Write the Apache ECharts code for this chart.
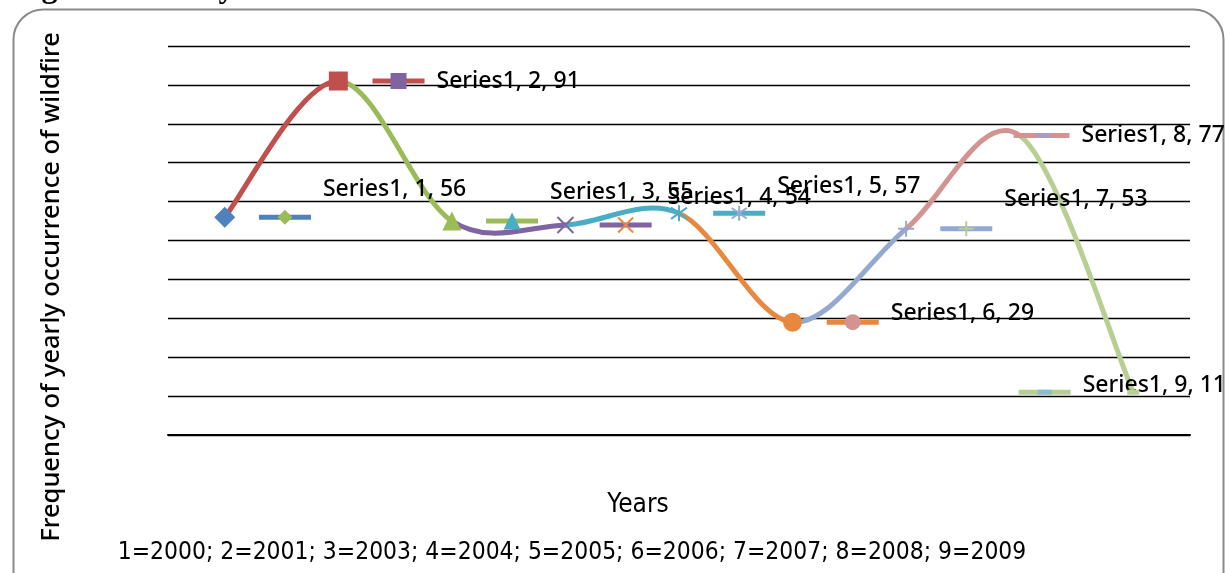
<!DOCTYPE html>
<html><head><meta charset="utf-8">
<script src="https://cdn.jsdelivr.net/npm/echarts@6/dist/echarts.min.js"></script>
<style>html,body{margin:0;padding:0;background:#fff}#c{width:1225px;height:573px}</style>
</head><body><div id="c"></div>
<script>
// ---- data ----
const seriesName = 'Series1';
const categories = [1, 2, 3, 4, 5, 6, 7, 8, 9];
const values = [56, 91, 55, 54, 57, 29, 53, 77, 11];
const yearKey = ['1=2000', '2=2001', '3=2003', '4=2004', '5=2005', '6=2006', '7=2007', '8=2008', '9=2009'];
const xTitle = 'Years';
const yTitle = 'Frequency of yearly occurrence of wildfire';
const topCaption = 'Figure 3: Yearly';

// ---- styles / layout ----
const palette = ['#4F81BD', '#C0504D', '#9BBB59', '#8064A2', '#4BACC6', '#E8883E',
                 '#93A9D0', '#D39391', '#B7CF92', '#A99BC2', '#86BFD0'];
const shapes = ['diamond', 'rect', 'triangle', 'x', 'star', 'circle', 'plus', 'dash', 'dash'];
const keyShift = [0.53, 0.53, 0.53, 0.53, 0.53, 0.53, 0.53, 0.21, -0.78];
const labelShift = [[0, -28], [0, 0], [0, -29], [4, -27], [0, -27], [0, -9], [0, -29], [0, 0], [0, -7]];
const SMOOTH = 1 / 6;   // Excel-like Catmull-Rom tension
const PATHS = {
  x: 'path://M0,0L10,10M10,0L0,10',
  star: 'path://M5,0L5,10M1.5,1.5L8.5,8.5M8.5,1.5L1.5,8.5',
  plus: 'path://M5,0L5,10M0,5L10,5'
};
const LABEL_FONT = '"Noto Sans", "Open Sans", sans-serif';
const NARROW_FONT = '"Liberation Sans Narrow", "DejaVu Sans Condensed", "Arial Narrow", sans-serif';

function sym(shape, color, big) {
  if (shape === 'x' || shape === 'star' || shape === 'plus') {
    return { symbol: PATHS[shape], symbolSize: big ? 16 : 15,
      itemStyle: { color: 'none', borderColor: color, borderWidth: 2, opacity: 1 } };
  }
  if (shape === 'dash') {
    return { symbol: 'rect', symbolSize: [big ? 12 : 14, 5], itemStyle: { color: color, borderWidth: 0, opacity: 1 } };
  }
  let size = big ? 19 : 16;
  if (shape === 'diamond') size = big ? 21 : 15;
  if (shape === 'triangle') size = big ? 19 : 17;
  return { symbol: shape, symbolSize: size, itemStyle: { color: color, borderWidth: 0, opacity: 1 } };
}

const lineData = categories.map((c, i) => [c, values[i]]);
const pointData = categories.map((c, i) => Object.assign({ value: [c, values[i]] }, sym(shapes[i], palette[i], true)));
const keyLineData = categories.map((c, i) => ({
  value: [c + keyShift[i], values[i]],
  name: seriesName + ', ' + c + ', ' + values[i],
  itemStyle: { color: palette[i], opacity: 1 },
  label: { offset: labelShift[i] }
}));
const keyMarkData = categories.map((c, i) => Object.assign({ value: [c + keyShift[i], values[i]] },
  sym(shapes[i], palette[i + 2], false)));

// smoothed segment i -> i+1, coloured like point i+1
function renderSegment(params, api) {
  const i = params.dataIndex;
  const n = categories.length;
  if (i >= n - 1) return null;
  const P = j => api.coord([categories[Math.max(0, Math.min(n - 1, j))], values[Math.max(0, Math.min(n - 1, j))]]);
  const p0 = P(i - 1), p1 = P(i), p2 = P(i + 1), p3 = P(i + 2);
  return {
    type: 'bezierCurve',
    shape: {
      x1: p1[0], y1: p1[1], x2: p2[0], y2: p2[1],
      cpx1: p1[0] + (p2[0] - p0[0]) * SMOOTH, cpy1: p1[1] + (p2[1] - p0[1]) * SMOOTH,
      cpx2: p2[0] - (p3[0] - p1[0]) * SMOOTH, cpy2: p2[1] - (p3[1] - p1[1]) * SMOOTH
    },
    style: { stroke: palette[i + 1], lineWidth: 5, fill: 'none', lineCap: 'round' }
  };
}

const chart = echarts.init(document.getElementById('c'));
chart.setOption({
  animation: false,
  backgroundColor: '#fff',
  grid: { left: 168, right: 35, top: 46, bottom: 138 },
  xAxis: {
    type: 'value', min: 0.5, max: 9.5,
    axisLabel: { show: false }, axisTick: { show: false }, splitLine: { show: false },
    axisLine: { show: true, lineStyle: { color: '#000', width: 2 } }
  },
  yAxis: {
    type: 'value', min: 0, max: 100, interval: 10,
    axisLabel: { show: false }, axisTick: { show: false }, axisLine: { show: false },
    splitLine: { lineStyle: { color: '#000', width: 1.4 } }
  },
  series: [
    { type: 'custom', data: lineData, renderItem: renderSegment, encode: { x: 0, y: 1 },
      clip: false, z: 2, silent: true },
    { type: 'scatter', data: pointData, z: 4, silent: true, itemStyle: { opacity: 1 } },
    { type: 'scatter', data: keyLineData, symbol: 'rect', symbolSize: [52, 5], z: 3, silent: true,
      itemStyle: { opacity: 1 },
      label: { show: true, position: 'right', distance: 12, color: '#000', fontWeight: 500,
        fontFamily: LABEL_FONT, fontSize: 23, textBorderWidth: 0, formatter: p => p.name } },
    { type: 'scatter', data: keyMarkData, z: 5, silent: true, itemStyle: { opacity: 1 } }
  ],
  graphic: [
    { type: 'rect', left: 11, top: 7, shape: { width: 1210, height: 610, r: 30 },
      style: { fill: 'none', stroke: '#8a8a8a', lineWidth: 2 }, z: -1 },
    { type: 'text', x: 13, y: 5, style: { text: topCaption, fill: '#000',
      font: 'bold 32px "Liberation Serif", serif', verticalAlign: 'bottom' } },
    { type: 'text', x: 52, y: 287, rotation: Math.PI / 2, style: { text: yTitle, fill: '#000',
      font: '500 25.5px ' + LABEL_FONT, align: 'center', verticalAlign: 'middle' } },
    { type: 'text', x: 638, y: 505, style: { text: xTitle, fill: '#000',
      font: '26px ' + NARROW_FONT, align: 'center', verticalAlign: 'middle' } },
    { type: 'text', x: 572, y: 553, style: { text: yearKey.join('; '), fill: '#000',
      font: '24.4px ' + NARROW_FONT, align: 'center', verticalAlign: 'middle' } }
  ]
});
</script></body></html>
